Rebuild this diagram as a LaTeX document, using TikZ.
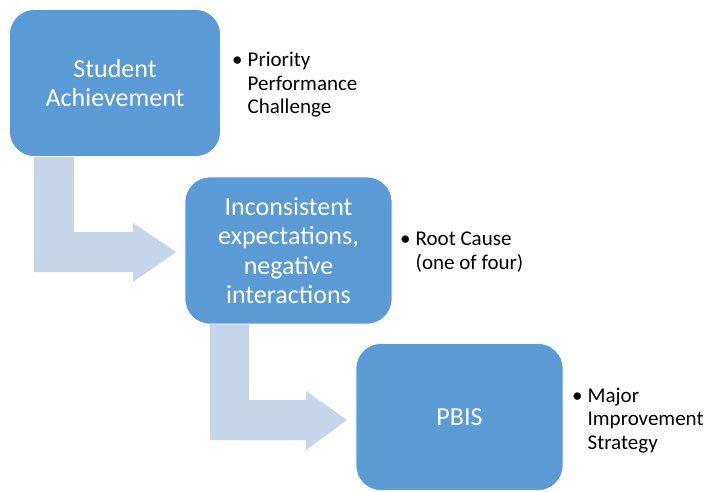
\documentclass[tikz,border=0pt]{standalone}
\usepackage{fontspec}
\setmainfont{Carlito}
\definecolor{boxblue}{HTML}{5B9BD5}
\definecolor{arrowblue}{HTML}{C5D5EA}
\begin{document}
\begin{tikzpicture}[x=1pt,y=-1pt,
  stagebox/.style={fill=boxblue, draw=white, line width=0.6pt, rounded corners=25pt,
    minimum width=207pt, minimum height=147pt, inner sep=0pt, align=center,
    text=white, font=\fontsize{26}{29.5}\selectfont},
  bentarrow/.style={fill=arrowblue, draw=none},
  notes/.style={anchor=west, inner sep=0pt, align=left, font=\fontsize{21}{23.5}\selectfont}]
\useasboundingbox (0,0) rectangle (721,491);
% bent arrows
\fill[bentarrow] (34,156) -- (74,156) -- (74,232) -- (133,232) -- (133,223) -- (176,252) -- (133,282) -- (133,272) -- (34,272) -- cycle;
\fill[bentarrow] (210,323) -- (249,323) -- (249,400) -- (306,400) -- (306,391) -- (347,420) -- (306,450) -- (306,440) -- (210,440) -- cycle;
% boxes
\node[stagebox, minimum width=211pt] (b1) at (115,83) {Student\\Achievement};
\node[stagebox] (b2) at (288.5,250.5) {Inconsistent\\expectations,\\negative\\interactions};
\node[stagebox] (b3) at (459.5,417) {PBIS};
% notes
\node[notes] (n1) at (232,85.5) {\begin{tabular}{@{}l@{\hspace{5pt}}l@{}}\textbullet & Priority\\ & Performance\\ & Challenge\end{tabular}};
\node[notes] (n2) at (400,253) {\begin{tabular}{@{}l@{\hspace{5pt}}l@{}}\textbullet & Root Cause\\ & (one of four)\end{tabular}};
\node[notes] (n3) at (572,421) {\begin{tabular}{@{}l@{\hspace{5pt}}l@{}}\textbullet & Major\\ & Improvement\\ & Strategy\end{tabular}};
\end{tikzpicture}
\end{document}
